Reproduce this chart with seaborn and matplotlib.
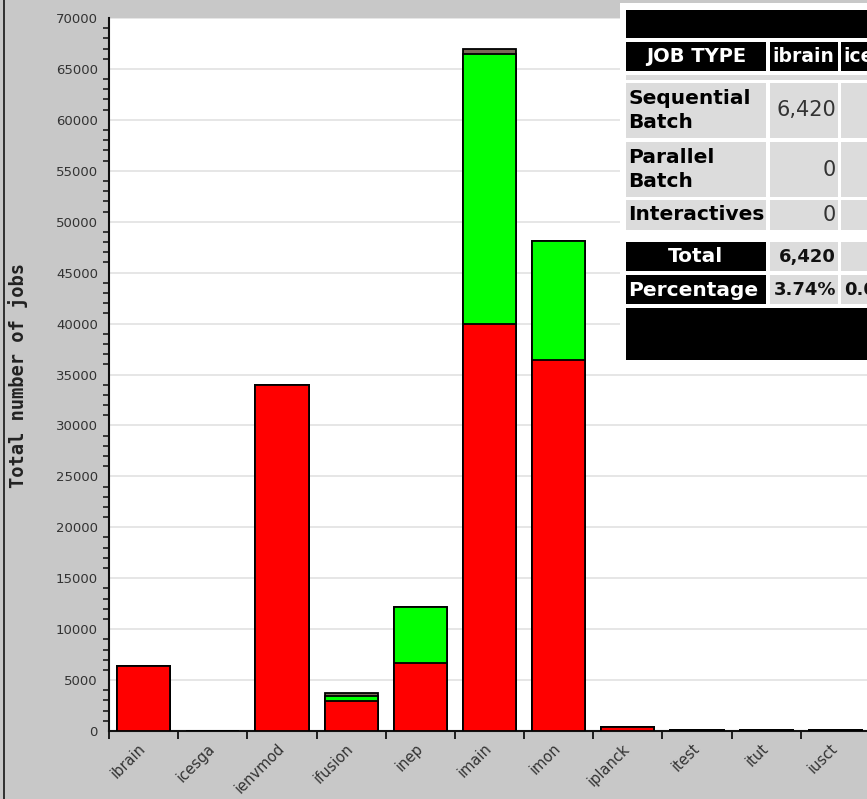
import matplotlib
matplotlib.use("Agg")
import matplotlib.pyplot as plt
from matplotlib.patches import Rectangle
from matplotlib.ticker import MultipleLocator, FixedLocator
import seaborn as sns

# ── Data ─────────────────────────────────────────────────────────────────────
categories = ["ibrain", "icesga", "ienvmod", "ifusion", "inep", "imain",
              "imon", "iplanck", "itest", "itut", "iusct"]
sequential = [6420, 0, 34000, 2900, 6700, 40000, 36400, 350, 60, 60, 60]
parallel = [0, 0, 0, 550, 5450, 26500, 11700, 0, 0, 0, 0]
interactive = [0, 0, 0, 250, 0, 450, 0, 0, 0, 0, 0]

# only the part of the summary table that is visible in the screenshot
table_rows = ["Sequential\nBatch", "Parallel\nBatch", "Interactives"]
table_cols = ["ibrain", "icesga"]
table_vals = [["6,420", ""], ["0", ""], ["0", ""]]
table_total = ["6,420", ""]
table_pct = ["3.74%", "0.00%"]

W, H = 867, 799
GREY = "#c8c8c8"
CELL = "#dcdcdc"

sns.set_style("white")
plt.rcParams["font.family"] = ["DejaVu Sans"]

fig = plt.figure(figsize=(W / 100, H / 100), dpi=100, facecolor=GREY)
ax = fig.add_axes([109 / W, 68 / H, 761 / W, 713 / H])
ax.set_facecolor("white")

seq_par = [s + p for s, p in zip(sequential, parallel)]
totals = [a + i for a, i in zip(seq_par, interactive)]

common = dict(order=categories, width=0.77, saturation=1, edgecolor="black",
              linewidth=1.3, ax=ax, zorder=3)
sns.barplot(x=categories, y=totals, color="#7a6a58", **common)
sns.barplot(x=categories, y=seq_par, color="#00ff00", **common)
sns.barplot(x=categories, y=sequential, color="#ff0000", **common)

ax.set_xlim(-0.5, len(categories) - 0.5)
ax.set_ylim(0, 70000)
ax.yaxis.set_major_locator(MultipleLocator(5000))
ax.yaxis.set_minor_locator(MultipleLocator(1000))
ax.xaxis.set_minor_locator(FixedLocator([i - 0.5 for i in range(len(categories) + 1)]))
ax.grid(axis="y", which="major", color="#e2e2e2", linewidth=1.2, zorder=0)
ax.set_axisbelow(True)

for side in ("top", "right"):
    ax.spines[side].set_visible(False)
for side in ("left", "bottom"):
    ax.spines[side].set_color("#111111")
    ax.spines[side].set_linewidth(1.5)

ax.tick_params(axis="y", which="major", direction="out", length=7, width=1.3,
               color="#111111", labelsize=9.5, labelcolor="#333333", pad=1)
ax.tick_params(axis="y", which="minor", direction="out", length=4, width=1.1,
               color="#111111", left=True)
ax.tick_params(axis="x", which="major", length=0, labelsize=10.5,
               labelcolor="#333333", pad=11)
ax.tick_params(axis="x", which="minor", direction="out", length=6, width=1.3,
               color="#111111", bottom=True)
ax.set_xticks(range(len(categories)))
ax.set_xticklabels(categories, rotation=45, ha="right", va="center",
                   rotation_mode="anchor")
ax.set_xlabel("")
ax.set_ylabel("")

fig.text(18 / W, 1 - 375 / H, "Total number of jobs", rotation=90,
         ha="center", va="center", fontsize=13.5, fontweight="bold",
         family="DejaVu Sans Mono", color="#222222")

# left page border
fig.add_artist(Rectangle((3 / W, 0), 2 / W, 1, transform=fig.transFigure,
                         facecolor="#333333", edgecolor="none"))


# ── Table overlay (pixel coordinates, top-left origin) ───────────────────────
def box(x, y, w, h, color):
    fig.add_artist(Rectangle((x / W, 1 - (y + h) / H), w / W, h / H,
                             transform=fig.transFigure, facecolor=color,
                             edgecolor="none", zorder=10))


def txt(x, y, s, color="black", ha="left", bold=True, size=14.5):
    if not s:
        return
    fig.text(x / W, 1 - y / H, s, ha=ha, va="center", color=color,
             fontsize=size, fontweight="bold" if bold else "normal",
             linespacing=1.35, zorder=11)


box(620, 3, 260, 362, "white")
box(626, 10, 260, 28, "black")

col_x = [770, 841]
col_w = 68
# header
box(626, 42, 140, 29, "black")
txt(696, 57, "JOB TYPE", color="white", ha="center", size=14)
for cx, name in zip(col_x, table_cols):
    box(cx, 42, col_w, 29, "black")
    txt(cx + 2, 57, name, color="white", size=13.5)
box(626, 75, 260, 5, CELL)

row_y = [(83, 55), (142, 55), (200, 30)]
for (ry, rh), label, vals in zip(row_y, table_rows, table_vals):
    box(626, ry, 140, rh, CELL)
    txt(628, ry + rh / 2, label)
    for cx, v in zip(col_x, vals):
        box(cx, ry, col_w, rh, CELL)
        txt(cx + col_w - 2, ry + rh / 2, v, color="#333333", ha="right",
            bold=False, size=15)

box(626, 242, 140, 29, "black")
txt(696, 257, "Total", color="white", ha="center")
box(626, 275, 140, 29, "black")
txt(628, 290, "Percentage", color="white")
for cx, t, p in zip(col_x, table_total, table_pct):
    box(cx, 242, col_w, 29, CELL)
    txt(cx + col_w - 2, 257, t, color="#111111", ha="right", size=13)
    box(cx, 275, col_w, 29, CELL)
    txt(cx + col_w - 2, 290, p, color="#111111", ha="right", size=13)

box(626, 308, 260, 52, "black")

fig.savefig("out.png", dpi=100, facecolor=GREY)
